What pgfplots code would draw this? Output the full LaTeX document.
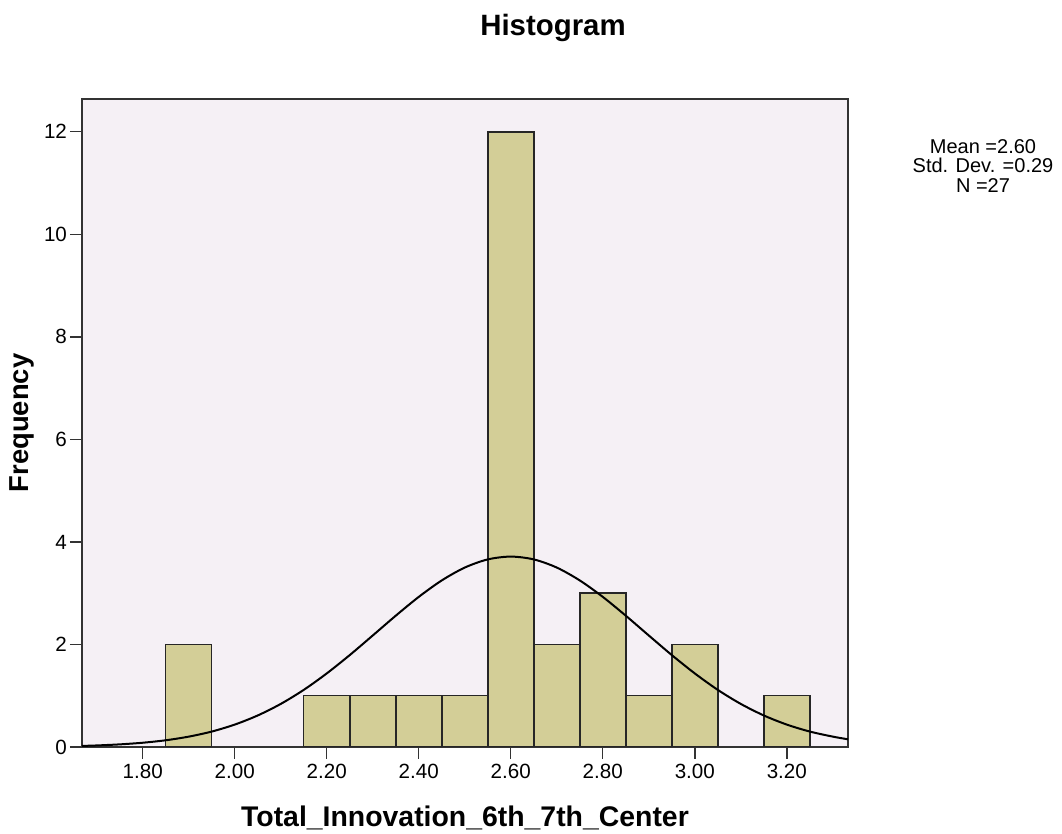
\documentclass[border=0pt]{standalone}
\usepackage{fontspec}
\setmainfont{Liberation Sans}
\usepackage{pgfplots}
\pgfplotsset{compat=1.18}
\definecolor{bgc}{HTML}{F5F0F5}
\definecolor{barc}{HTML}{D3CE97}
\begin{document}
\begin{tikzpicture}[x=0.5pt,y=0.5pt]
\useasboundingbox (0,0) rectangle (1062,834);
\begin{axis}[
  at={(41pt,43.5pt)}, anchor=south west,
  scale only axis, width=383pt, height=324pt,
  xmin=1.668, xmax=3.333, ymin=0, ymax=12.64,
  axis background/.style={fill=bgc},
  axis line style={draw=black!80, line width=1pt},
  xtick={1.8,2.0,2.2,2.4,2.6,2.8,3.0,3.2},
  ytick={0,2,4,6,8,10,12},
  tick align=outside, major tick length=6pt,
  tick style={black!80, line width=0.7pt},
  xtick pos=bottom, ytick pos=left,
  /pgf/number format/assume math mode=true,
  xticklabel style={font=\fontsize{10.3}{12}\selectfont, yshift=1pt, /pgf/number format/fixed, /pgf/number format/fixed zerofill, /pgf/number format/precision=2},
  yticklabel style={font=\fontsize{10.3}{12}\selectfont, xshift=2pt},
]
\addplot[ybar, bar width=0.1, bar shift=0pt, fill=barc, draw=black!85, line width=0.75pt]
coordinates {(1.9,2) (2.2,1) (2.3,1) (2.4,1) (2.5,1) (2.6,12) (2.7,2) (2.8,3) (2.9,1) (3.0,2) (3.2,1)};
\addplot[smooth, black, line width=1pt, no marks] coordinates {
(1.668,0.021) (1.70,0.030) (1.75,0.051) (1.80,0.083) (1.85,0.131) (1.90,0.202) (1.95,0.301)
(2.00,0.437) (2.05,0.615) (2.10,0.840) (2.15,1.114) (2.20,1.435) (2.25,1.793) (2.30,2.175)
(2.35,2.561) (2.40,2.928) (2.45,3.249) (2.50,3.500) (2.55,3.659) (2.60,3.714)
(2.65,3.659) (2.70,3.500) (2.75,3.249) (2.80,2.928) (2.85,2.561) (2.90,2.175) (2.95,1.793)
(3.00,1.435) (3.05,1.114) (3.10,0.840) (3.15,0.615) (3.20,0.437) (3.25,0.301) (3.30,0.202) (3.333,0.150)};
\end{axis}
\node[font=\fontsize{14.7}{17}\selectfont\bfseries] at (553,806) {Histogram};
\node[font=\fontsize{14.2}{17}\selectfont\bfseries] at (465,16) {Total\_Innovation\_6th\_7th\_Center};
\node[font=\fontsize{13.7}{16}\selectfont\bfseries, rotate=90] at (22,411) {Frequency};
\node[font=\fontsize{10}{9.6}\selectfont, align=center, inner sep=0pt] at (983,668) {Mean =2.60\\Std. Dev. =0.29\\N =27};
\end{tikzpicture}
\end{document}
